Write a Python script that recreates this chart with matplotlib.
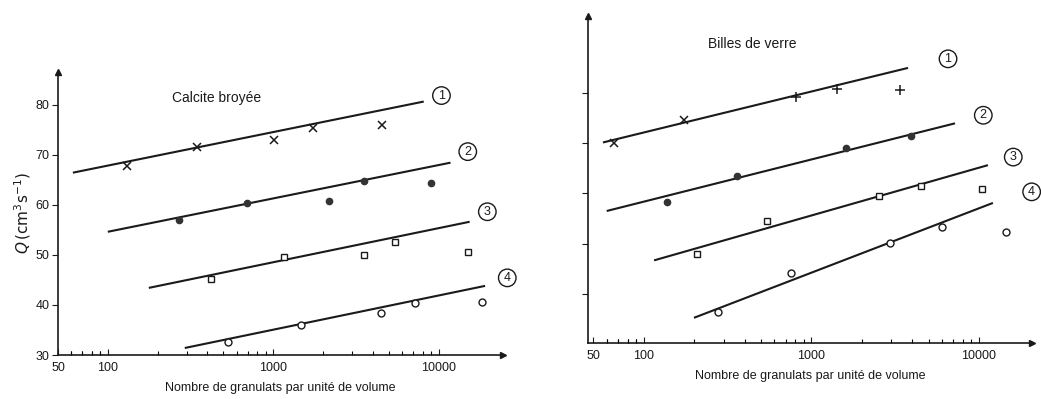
import numpy as np
import matplotlib
matplotlib.use('Agg')
import matplotlib.pyplot as plt
from matplotlib.ticker import FixedLocator, NullFormatter, FixedFormatter

plt.rcParams['font.family'] = ['Liberation Sans', 'DejaVu Sans']

# ---------------- Calcite broyee (left) ----------------
cal_x = [[130, 348, 1010, 1740, 4540],
         [268, 697, 2170, 3540, 9040],
         [423, 1170, 3540, 5430, 14960],
         [535, 1475, 4470, 7170, 18400]]
cal_q = [[67.8, 71.6, 73.0, 75.4, 76.0],
         [57.0, 60.4, 60.8, 64.8, 64.4],
         [45.2, 49.6, 50.0, 52.6, 50.6],
         [32.6, 36.0, 38.4, 40.4, 40.6]]
# fitted lines: (x start, x end), (Q start, Q end)
cal_fit_x = [(61.5, 8130), (100, 11800), (177, 15400), (292, 19100)]
cal_fit_q = [(66.4, 80.6), (54.6, 68.4), (43.4, 56.6), (31.4, 43.8)]
cal_lab_x = [10400, 15000, 19700, 26000]
cal_lab_q = [81.8, 70.6, 58.6, 45.4]

# ---------------- Billes de verre (right) ----------------
bil_x = [[66, 173, 807, 1420, 3370],
         [137, 359, 1610, 3930],
         [207, 542, 2530, 4510, 10400],
         [277, 755, 2940, 6010, 14500]]
bil_q = [[70.0, 74.5, 79.2, 80.8, 80.6],
         [58.3, 63.4, 69.0, 71.3],
         [47.9, 54.6, 59.5, 61.5, 60.9],
         [36.4, 44.1, 50.2, 53.4, 52.4]]
bil_fit_x = [(57, 3770), (60, 7190), (115, 11300), (199, 12100)]
bil_fit_q = [(70.1, 84.9), (56.5, 73.9), (46.7, 65.6), (35.3, 58.1)]
bil_lab_x = [6530, 10600, 16000, 20600]
bil_lab_q = [86.7, 75.5, 67.2, 60.3]

series_labels = ['1', '2', '3', '4']
xtick_vals = [50, 100, 1000, 10000]
xtick_text = ['50', '100', '1000', '10000']
ytick_vals = [30, 40, 50, 60, 70, 80]

ink = '#1a1a1a'
W, H = 1041, 399
fig = plt.figure(figsize=(W/100, H/100), dpi=100, facecolor='white')


def draw_markers(ax, x, q, i, n_x=None):
    x = np.array(x)
    q = np.array(q)
    if i == 0:
        k = len(x) if n_x is None else n_x
        ax.plot(x[:k], q[:k], 'x', color=ink, ms=5.5, mew=1.1)
        ax.plot(x[k:], q[k:], '+', color=ink, ms=6.5, mew=1.1)
    elif i == 1:
        ax.plot(x, q, 'o', color='#333333', ms=4.5)
    elif i == 2:
        ax.plot(x, q, 's', mfc='white', mec=ink, ms=5, mew=1.0)
    else:
        ax.plot(x, q, 'o', mfc='white', mec=ink, ms=5, mew=1.0)


def setup(ax, xlim, ylim, ylabels):
    ax.set_xscale('log')
    ax.set_xlim(*xlim)
    ax.set_ylim(*ylim)
    for s in ['top', 'right']:
        ax.spines[s].set_visible(False)
    for s in ['left', 'bottom']:
        ax.spines[s].set_color(ink)
        ax.spines[s].set_linewidth(1.2)
    ax.xaxis.set_major_locator(FixedLocator(xtick_vals))
    ax.xaxis.set_major_formatter(FixedFormatter(xtick_text))
    minors = [v * d for d in [10, 100, 1000] for v in range(2, 10)] + [60, 70, 80, 90]
    ax.xaxis.set_minor_locator(FixedLocator(minors))
    ax.xaxis.set_minor_formatter(NullFormatter())
    ax.tick_params(axis='x', which='major', direction='in', length=4, width=0.8,
                   labelsize=9, colors=ink, pad=5)
    ax.tick_params(axis='x', which='minor', direction='in', length=3, width=0.8)
    ax.set_yticks(ytick_vals[1:] if not ylabels else ytick_vals)
    if not ylabels:
        ax.set_yticklabels([])
    ax.tick_params(axis='y', direction='out', length=4, width=0.8,
                   labelsize=9, colors=ink, pad=2)
    # arrow heads at the ends of both axes
    ax.plot(1, 0, '>', color=ink, ms=5, transform=ax.transAxes, clip_on=False)
    ax.plot(0, 1, '^', color=ink, ms=5, transform=ax.transAxes, clip_on=False)


def panel(ax, xs, qs, fx, fq, lx, lq, n_x=None):
    for i in range(4):
        ax.plot(fx[i], fq[i], '-', color=ink, lw=1.5, solid_capstyle='butt')
        draw_markers(ax, xs[i], qs[i], i, n_x)
        ax.text(lx[i], lq[i], series_labels[i], fontsize=9, color=ink,
                ha='center', va='center', clip_on=False,
                bbox=dict(boxstyle='circle,pad=0.22', fc='white', ec=ink, lw=1.0))


# left axes
ax1 = fig.add_axes([58/W, (H-355)/H, (503-58)/W, (355-72)/H])
setup(ax1, (50, 24500), (30, 86.5), True)
panel(ax1, cal_x, cal_q, cal_fit_x, cal_fit_q, cal_lab_x, cal_lab_q)
ax1.text(243, 81.4, 'Calcite broyée', fontsize=10, color=ink, va='center')
ax1.set_ylabel(r'$Q\,(\mathrm{cm^3 s^{-1}})$', fontsize=11, color=ink, labelpad=2)
ax1.set_xlabel('Nombre de granulats par unité de volume', fontsize=9, color=ink, labelpad=6)

# right axes
ax2 = fig.add_axes([588/W, (H-343)/H, (1032-588)/W, (343-16)/H])
setup(ax2, (46.4, 20700), (30.3, 95.2), False)
panel(ax2, bil_x, bil_q, bil_fit_x, bil_fit_q, bil_lab_x, bil_lab_q, n_x=2)
ax2.text(241, 89.7, 'Billes de verre', fontsize=10, color=ink, va='center')
ax2.set_xlabel('Nombre de granulats par unité de volume', fontsize=9, color=ink, labelpad=6)

fig.savefig('out.png', dpi=100, facecolor='white')
